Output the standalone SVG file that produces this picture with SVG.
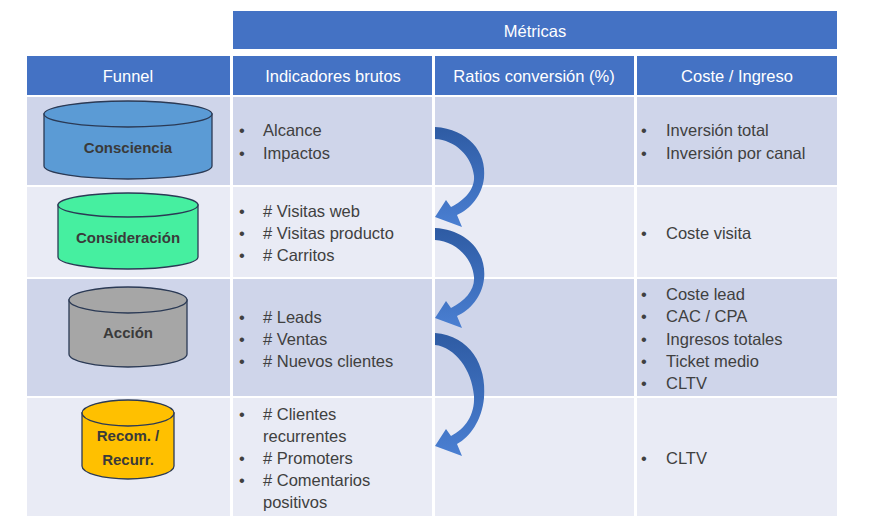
<svg xmlns="http://www.w3.org/2000/svg" width="871" height="528" viewBox="0 0 871 528">
<defs>
<style>
.hdr{fill:#4472C4}
.r1{fill:#CFD5EA}
.r2{fill:#E9EBF5}
.ht{font-family:"Liberation Sans",Arial,sans-serif;font-size:16.5px;fill:#FFFFFF;text-anchor:middle}
.bt{font-family:"Liberation Sans",Arial,sans-serif;font-size:16.5px;fill:#404040}
.cy{stroke:#2B3A55;stroke-width:1.3}
.ct{font-family:"Liberation Sans",Arial,sans-serif;font-size:15px;font-weight:bold;fill:#3A3A3A;text-anchor:middle}
</style>
<linearGradient id="ag" x1="0" y1="0" x2="0" y2="1">
<stop offset="0" stop-color="#2E5BA3"/>
<stop offset="1" stop-color="#4A7FD2"/>
</linearGradient>
<path id="arr" d="M435,0 C468,2 487,25 484,51 C482,69 470,82 457,88 L462,100 L435,90 L446,73 L451,80 C465,73 475,62 474,49 C472,29 455,13 435,12 Z"/>
</defs>
<rect width="871" height="528" fill="#FFFFFF"/>
<g id="table">
<rect class="hdr" x="233" y="11" width="604" height="38"/>
<text class="ht" x="535" y="37">Métricas</text>
<rect class="hdr" x="27" y="56" width="203" height="39"/>
<rect class="hdr" x="233" y="56" width="199" height="39"/>
<rect class="hdr" x="435" y="56" width="199" height="39"/>
<rect class="hdr" x="637" y="56" width="200" height="39"/>
<text class="ht" x="128" y="82">Funnel</text>
<text class="ht" x="333" y="82">Indicadores brutos</text>
<text class="ht" x="534" y="82">Ratios conversión (%)</text>
<text class="ht" x="737" y="82">Coste / Ingreso</text>
<g class="r1"><rect x="27" y="97" width="203" height="88"/><rect x="233" y="97" width="199" height="88"/><rect x="435" y="97" width="199" height="88"/><rect x="637" y="97" width="200" height="88"/></g>
<g class="r2"><rect x="27" y="187" width="203" height="90"/><rect x="233" y="187" width="199" height="90"/><rect x="435" y="187" width="199" height="90"/><rect x="637" y="187" width="200" height="90"/></g>
<g class="r1"><rect x="27" y="279" width="203" height="117"/><rect x="233" y="279" width="199" height="117"/><rect x="435" y="279" width="199" height="117"/><rect x="637" y="279" width="200" height="117"/></g>
<g class="r2"><rect x="27" y="398" width="203" height="118"/><rect x="233" y="398" width="199" height="118"/><rect x="435" y="398" width="199" height="118"/><rect x="637" y="398" width="200" height="118"/></g>
</g>
<g id="indicadores" class="bt">
<text x="239" y="136">•</text><text x="263" y="136">Alcance</text>
<text x="239" y="159">•</text><text x="263" y="159">Impactos</text>
<text x="239" y="217">•</text><text x="263" y="217"># Visitas web</text>
<text x="239" y="239">•</text><text x="263" y="239"># Visitas producto</text>
<text x="239" y="261">•</text><text x="263" y="261"># Carritos</text>
<text x="239" y="323">•</text><text x="263" y="323"># Leads</text>
<text x="239" y="345">•</text><text x="263" y="345"># Ventas</text>
<text x="239" y="367">•</text><text x="263" y="367"># Nuevos clientes</text>
<text x="239" y="420">•</text><text x="263" y="420"># Clientes</text>
<text x="263" y="442">recurrentes</text>
<text x="239" y="464">•</text><text x="263" y="464"># Promoters</text>
<text x="239" y="486">•</text><text x="263" y="486"># Comentarios</text>
<text x="263" y="508">positivos</text>
</g>
<g id="coste" class="bt">
<text x="641" y="136">•</text><text x="666" y="136">Inversión total</text>
<text x="641" y="159">•</text><text x="666" y="159">Inversión por canal</text>
<text x="641" y="239">•</text><text x="666" y="239">Coste visita</text>
<text x="641" y="300">•</text><text x="666" y="300">Coste lead</text>
<text x="641" y="322">•</text><text x="666" y="322">CAC / CPA</text>
<text x="641" y="345">•</text><text x="666" y="345">Ingresos totales</text>
<text x="641" y="367">•</text><text x="666" y="367">Ticket medio</text>
<text x="641" y="389">•</text><text x="666" y="389">CLTV</text>
<text x="641" y="464">•</text><text x="666" y="464">CLTV</text>
</g>
<g id="consciencia">
<path class="cy" fill="#5B9BD5" d="M44,114 L44,166 A84,13 0 0 0 212,166 L212,114 Z"/>
<ellipse class="cy" fill="#5B9BD5" cx="128" cy="114" rx="84" ry="13"/>
<text class="ct" x="128" y="153">Consciencia</text>
</g>
<g id="consideracion">
<path class="cy" fill="#46EFA0" d="M58,205 L58,257 A70,12 0 0 0 198,257 L198,205 Z"/>
<ellipse class="cy" fill="#46EFA0" cx="128" cy="205" rx="70" ry="12"/>
<text class="ct" x="128" y="243">Consideración</text>
</g>
<g id="accion">
<path class="cy" fill="#A6A6A6" d="M69,300 L69,354 A59,13 0 0 0 187,354 L187,300 Z"/>
<ellipse class="cy" fill="#A6A6A6" cx="128" cy="300" rx="59" ry="13"/>
<text class="ct" x="128" y="338">Acción</text>
</g>
<g id="recom">
<path class="cy" fill="#FFC000" d="M82,413 L82,466 A46,13 0 0 0 174,466 L174,413 Z"/>
<ellipse class="cy" fill="#FFC000" cx="128" cy="413" rx="46" ry="13"/>
<text class="ct" x="128" y="441">Recom. /</text>
<text class="ct" x="128" y="465">Recurr.</text>
</g>
<g id="connectors" fill="url(#ag)">
<use href="#arr" transform="translate(0,127)"/>
<use href="#arr" transform="translate(0,228)"/>
<path d="M435,333 C470,336 487,365 484,398 C482,420 470,437 457,444 L462,456 L435,446 L446,429 L451,436 C465,429 475,415 474,396 C472,370 455,347 435,345 Z"/>
</g>
</svg>
